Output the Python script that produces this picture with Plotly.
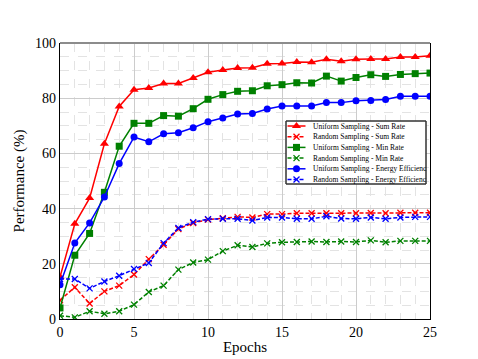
import plotly.graph_objects as go

# 값은 그림에서 읽음 (epoch 0..25)
epochs = list(range(26))
uniform_sum = [15.2, 34.5, 43.8, 63.5, 77.0, 83.1, 83.7, 85.3, 85.3, 87.3, 89.4, 90.2, 90.9,
               91.0, 92.5, 92.6, 93.1, 93.0, 94.1, 93.4, 94.1, 94.2, 94.2, 94.9, 94.9, 95.4]
random_sum = [6.8, 11.5, 5.6, 10.0, 12.1, 16.1, 21.7, 26.9, 32.6, 34.8, 36.0, 36.5, 37.0,
              36.8, 38.0, 38.0, 38.3, 38.3, 38.3, 38.3, 38.3, 38.4, 38.3, 38.5, 38.5, 38.5]
uniform_min = [4.0, 23.1, 31.0, 45.9, 62.6, 70.9, 70.9, 73.7, 73.5, 76.2, 79.6, 81.3, 82.5,
               82.7, 84.5, 84.9, 85.6, 85.5, 88.0, 86.2, 87.5, 88.5, 87.9, 88.6, 88.9, 89.1]
random_min = [1.2, 0.6, 2.8, 1.9, 2.8, 5.2, 9.8, 12.1, 17.9, 20.5, 21.5, 24.6, 26.7,
              26.1, 27.4, 27.8, 27.9, 28.1, 27.9, 28.1, 27.9, 28.5, 27.8, 28.3, 28.3, 28.3]
uniform_ee = [12.4, 27.5, 34.8, 44.2, 56.3, 65.9, 64.2, 67.1, 67.5, 69.3, 71.5, 72.8, 74.3,
              74.5, 76.1, 77.2, 77.2, 77.2, 78.4, 78.4, 79.1, 79.2, 79.5, 80.7, 80.7, 80.7]
random_ee = [14.5, 14.5, 11.1, 13.6, 15.7, 18.1, 20.3, 27.5, 33.0, 35.1, 36.2, 36.3, 36.3,
             35.7, 36.8, 36.8, 36.3, 36.3, 37.2, 36.4, 36.3, 36.8, 36.3, 36.8, 37.0, 37.0]

labels = ["Uniform Sampling - Sum Rate", "Random Sampling - Sum Rate",
          "Uniform Sampling - Min Rate", "Random Sampling - Min Rate",
          "Uniform Sampling - Energy Efficienc", "Random Sampling - Energy Efficienc"]

FONT = "Liberation Serif, Times New Roman, serif"
RED, GREEN, BLUE = "#ff0000", "#008000", "#0000ff"

# (data, color, symbol, size, dashed)
series = [
    (uniform_sum, RED, "triangle-up", 8, False),
    (random_sum, RED, "x-thin", 6, True),
    (uniform_min, GREEN, "square", 7, False),
    (random_min, GREEN, "x-thin", 6, True),
    (uniform_ee, BLUE, "circle", 7, False),
    (random_ee, BLUE, "x-thin", 6, True),
]


def _marker(color, symbol, size):
    if symbol == "x-thin":
        return dict(symbol=symbol, size=size, color=color, line=dict(color=color, width=1.3))
    return dict(symbol=symbol, size=size, color=color)


fig = go.Figure()
for (ys, color, sym, size, dashed), name in zip(series, labels):
    fig.add_trace(go.Scatter(
        x=epochs, y=ys, name=name, mode="lines+markers", showlegend=False,
        line=dict(color=color, width=1.5, dash="4px,2px" if dashed else "solid"),
        marker=_marker(color, sym, size)))

# 수동 범례 (plotly 기본 범례는 행 높이가 너무 큼) — 오버레이 축(0..1) 위에 그림
# 좌표는 스크린샷 픽셀 기준 (플롯 영역 x 60..430, y 43..319)
W, H, L, T = 370.0, 276.0, 60.0, 43.0
def px_x(p):
    return (p - L) / W
def px_y(p):
    return (T + H - p) / H

bx0, bx1, by0, by1 = px_x(286), px_x(426), px_y(184), px_y(121)
fig.add_trace(go.Scatter(
    x=[bx0, bx1, bx1, bx0, bx0], y=[by0, by0, by1, by1, by0], mode="lines", fill="toself",
    fillcolor="white", line=dict(color="#333333", width=1),
    xaxis="x2", yaxis="y2", showlegend=False, hoverinfo="skip"))

row_y = [px_y(126 + 10.7 * i) for i in range(len(labels))]
sx0, sxm, sx1 = px_x(287.5), px_x(296.5), px_x(305.5)
for (ys, color, sym, size, dashed), name, ry in zip(series, labels, row_y):
    fig.add_trace(go.Scatter(
        x=[sx0, sx1], y=[ry, ry], mode="lines", xaxis="x2", yaxis="y2", showlegend=False,
        hoverinfo="skip", line=dict(color=color, width=1.5, dash="4px,2px" if dashed else "solid")))
    fig.add_trace(go.Scatter(
        x=[sxm], y=[ry], mode="markers", xaxis="x2", yaxis="y2", showlegend=False,
        hoverinfo="skip", marker=_marker(color, sym, size)))
    fig.add_annotation(x=px_x(310.5), y=ry, xref="paper", yref="paper", text=name,
                       showarrow=False, xanchor="left", yanchor="middle",
                       font=dict(family=FONT, size=7.5, color="black"))

fig.add_shape(type="rect", xref="paper", yref="paper", x0=bx0, x1=bx1, y0=by0, y1=by1,
              line=dict(color="#333333", width=1), layer="above")
fig.add_shape(type="line", xref="paper", yref="paper", x0=0, x1=1, y0=1, y1=1,
              line=dict(color="#8c8c8c", width=2))

grid_major = "#cccccc"
grid_minor = "#e3e3e3"
# 페이지 body 여백(8px)만큼 보정
fig.update_layout(
    width=470, height=351,
    margin=dict(l=52, r=48, t=35, b=40),
    paper_bgcolor="white", plot_bgcolor="white",
    font=dict(family=FONT, size=14, color="black"),
    xaxis=dict(range=[0, 25], dtick=5, tick0=0, showgrid=True, gridcolor=grid_major,
               gridwidth=1.2, zeroline=False, showline=True, linecolor="black", linewidth=1.3,
               ticks="", automargin=False,
               title=dict(text="Epochs", font=dict(size=15), standoff=2),
               minor=dict(dtick=1, showgrid=True, gridcolor=grid_minor, griddash="dash",
                          gridwidth=1)),
    yaxis=dict(range=[0, 100], dtick=20, tick0=0, showgrid=True, gridcolor=grid_major,
               gridwidth=1.2, zeroline=False, showline=True, mirror=True, linecolor="black",
               linewidth=1.3, ticks="", automargin=False,
               title=dict(text="Performance (%)", font=dict(size=15), standoff=6),
               minor=dict(dtick=5, showgrid=True, gridcolor=grid_minor, griddash="dash",
                          gridwidth=1)),
    xaxis2=dict(overlaying="x", range=[0, 1], visible=False),
    yaxis2=dict(overlaying="y", range=[0, 1], visible=False),
)

fig.write_html("out.html")
